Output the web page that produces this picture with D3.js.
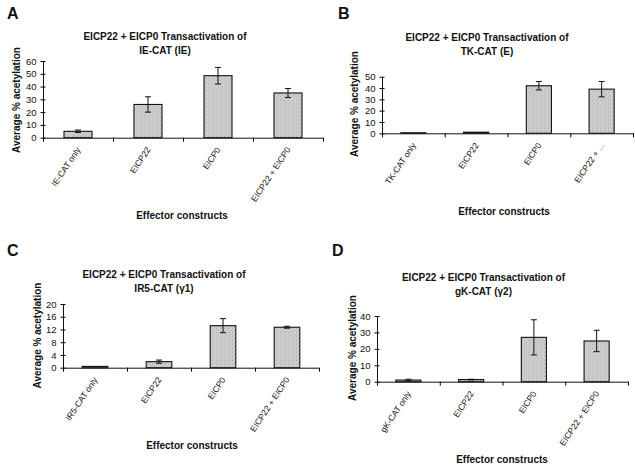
<!DOCTYPE html>
<html>
<head>
<meta charset="utf-8">
<script src="https://cdn.jsdelivr.net/npm/d3@7"></script>
<style>
  html, body { margin: 0; padding: 0; background: #fff; }
  svg { display: block; }
  text { font-family: "Liberation Sans", Arial, sans-serif; fill: #111; }
</style>
</head>
<body>
<svg id="chart" width="635" height="468"></svg>
<script>
// ---------- DATA ----------
const catsA = ["IE-CAT only", "EICP22", "EICP0", "EICP22 + EICP0"];
const valsA = [5, 26, 48.5, 35];
const errsA = [1, 6, 6.5, 3.5];
const ticksA = [0, 10, 20, 30, 40, 50, 60];

const catsB = ["TK-CAT only", "EICP22", "EICP0", "EICP22 + ..."];
const valsB = [0.5, 1, 42, 39];
const errsB = [0, 0, 3.7, 6.8];
const ticksB = [0, 10, 20, 30, 40, 50];

const catsC = ["IR5-CAT only", "EICP22", "EICP0", "EICP22 + EICP0"];
const valsC = [0.4, 1.9, 13.2, 12.7];
const errsC = [0, 0.5, 2.2, 0.3];
const ticksC = [0, 4, 8, 12, 16, 20];

const catsD = ["gK-CAT only", "EICP22", "EICP0", "EICP22 + EICP0"];
const valsD = [1, 1.3, 27, 24.8];
const errsD = [0.5, 0.2, 10.7, 6.5];
const ticksD = [0, 10, 20, 30, 40];

const titleLine1 = "EICP22 + EICP0 Transactivation of";
const subtitles = ["IE-CAT (IE)", "TK-CAT (E)", "IR5-CAT (\u03B31)", "gK-CAT (\u03B32)"];
const letters = ["A", "B", "C", "D"];
const yLabel = "Average % acetylation";
const xLabel = "Effector constructs";

// ---------- LAYOUT ----------
const panels = [
  { cats: catsA, vals: valsA, errs: errsA, ticks: ticksA,
    x0: 43, x1: 323, y0: 137.7, yTop: 61, letter: [7, 19], title: [165, 39.5, 53.5],
    ylab: [19.5, 100], xlab: [182, 219] },
  { cats: catsB, vals: valsB, errs: errsB, ticks: ticksB,
    x0: 382, x1: 633, y0: 133.3, yTop: 76.7, letter: [338, 18.5], title: [487, 40.5, 55],
    ylab: [357.5, 104], xlab: [504, 215] },
  { cats: catsC, vals: valsC, errs: errsC, ticks: ticksC,
    x0: 63, x1: 319, y0: 367.7, yTop: 304, letter: [7, 256], title: [164, 277.5, 292],
    ylab: [41, 335.5], xlab: [192, 449] },
  { cats: catsD, vals: valsD, errs: errsD, ticks: ticksD,
    x0: 377, x1: 628, y0: 381.7, yTop: 316, letter: [332, 256], title: [483.5, 281, 295],
    ylab: [355.5, 348], xlab: [502, 463] }
];

const svg = d3.select("#chart");

// stipple texture for bars
const defs = svg.append("defs");
const pat = defs.append("pattern").attr("id", "stip").attr("patternUnits", "userSpaceOnUse")
  .attr("width", 4).attr("height", 4);
pat.append("rect").attr("width", 4).attr("height", 4).attr("fill", "#cecece");
pat.append("rect").attr("x", 0).attr("y", 0).attr("width", 1).attr("height", 1).attr("fill", "#a9a9a9");
pat.append("rect").attr("x", 2).attr("y", 2).attr("width", 1).attr("height", 1).attr("fill", "#b0b0b0");
pat.append("rect").attr("x", 1).attr("y", 3).attr("width", 1).attr("height", 1).attr("fill", "#bdbdbd");

panels.forEach((p, i) => {
  const g = svg.append("g");
  const yMax = p.ticks[p.ticks.length - 1];
  const y = d3.scaleLinear().domain([0, yMax]).range([p.y0, p.yTop]);
  const x = d3.scaleBand().domain(p.cats).range([p.x0, p.x1]).paddingInner(0.6).paddingOuter(0.3);
  const xb = d3.scaleLinear().domain([0, p.cats.length]).range([p.x0, p.x1]);

  // panel letter
  g.append("text").attr("x", p.letter[0]).attr("y", p.letter[1])
    .attr("font-size", 16).attr("font-weight", "bold").text(letters[i]);

  // title
  g.append("text").attr("x", p.title[0]).attr("y", p.title[1]).attr("text-anchor", "middle")
    .attr("font-size", 10).attr("font-weight", "bold").text(titleLine1);
  g.append("text").attr("x", p.title[0]).attr("y", p.title[2]).attr("text-anchor", "middle")
    .attr("font-size", 10).attr("font-weight", "bold").text(subtitles[i]);

  // y axis
  const ya = g.append("g").attr("transform", `translate(${p.x0},0)`)
    .call(d3.axisLeft(y).tickValues(p.ticks).tickSizeInner(2.5).tickSizeOuter(0).tickPadding(4));
  ya.selectAll(".tick line").attr("x1", 2.5).attr("x2", -2.5);
  ya.selectAll(".tick text").attr("font-size", 9.5).attr("font-family", "Liberation Sans, Arial, sans-serif").attr("fill", "#111");
  ya.select(".domain").attr("stroke", "#111");

  // x axis (category boundaries)
  const xa = g.append("g").attr("transform", `translate(0,${p.y0})`)
    .call(d3.axisBottom(xb).tickValues(d3.range(0, p.cats.length + 1)).tickFormat("").tickSizeInner(4).tickSizeOuter(0));
  xa.select(".domain").attr("stroke", "#111");

  // bars
  g.selectAll("rect.bar").data(p.cats).join("rect").attr("class", "bar")
    .attr("x", d => x(d)).attr("width", x.bandwidth())
    .attr("y", (d, k) => y(p.vals[k])).attr("height", (d, k) => p.y0 - y(p.vals[k]))
    .attr("fill", "url(#stip)").attr("stroke", "#111").attr("stroke-width", 1.1);

  // error bars
  p.cats.forEach((c, k) => {
    if (!p.errs[k]) return;
    const cx = x(c) + x.bandwidth() / 2;
    const hi = y(p.vals[k] + p.errs[k]), lo = y(Math.max(0, p.vals[k] - p.errs[k]));
    g.append("line").attr("x1", cx).attr("x2", cx).attr("y1", hi).attr("y2", lo).attr("stroke", "#111");
    [hi, lo].forEach(v => g.append("line").attr("x1", cx - 3).attr("x2", cx + 3)
      .attr("y1", v).attr("y2", v).attr("stroke", "#111"));
  });

  // category labels
  g.selectAll("text.cat").data(p.cats).join("text").attr("class", "cat")
    .attr("transform", d => `translate(${x(d) + x.bandwidth() / 2 + 3},${p.y0 + 12}) rotate(-56)`)
    .attr("text-anchor", "end").attr("font-size", 8.5).text(d => d);

  // axis titles
  g.append("text").attr("transform", `translate(${p.ylab[0]},${p.ylab[1]}) rotate(-90)`)
    .attr("text-anchor", "middle").attr("font-size", 10).attr("font-weight", "bold").text(yLabel);
  g.append("text").attr("x", p.xlab[0]).attr("y", p.xlab[1]).attr("text-anchor", "middle")
    .attr("font-size", 10).attr("font-weight", "bold").text(xLabel);
});
</script>
</body>
</html>
